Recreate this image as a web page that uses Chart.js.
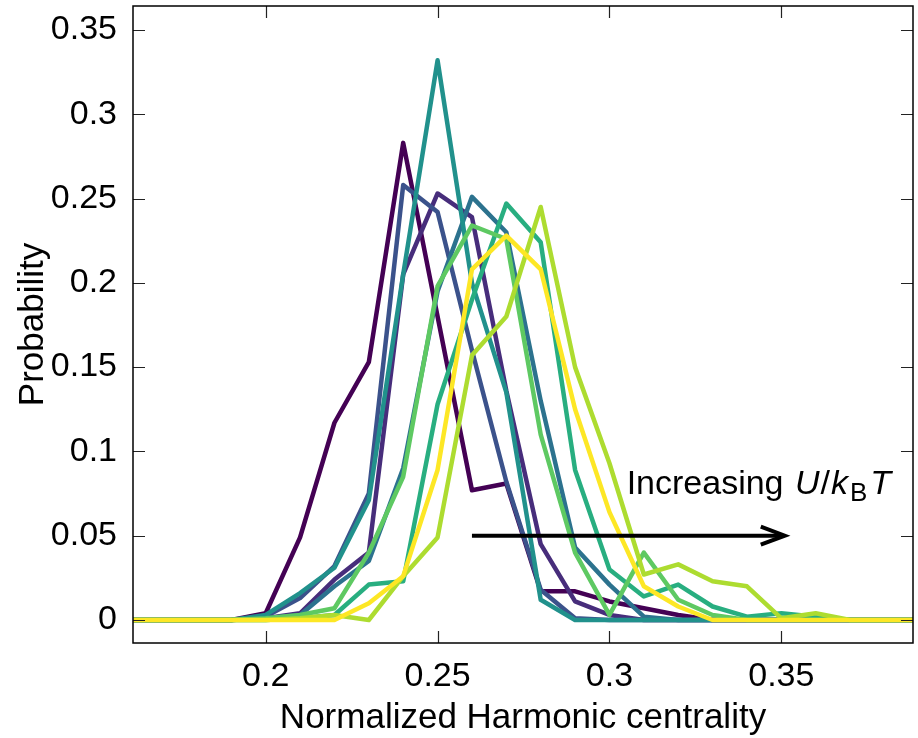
<!DOCTYPE html>
<html lang="en">
<head>
    <meta charset="UTF-8">
    <title>Harmonic centrality distribution</title>
    <script src="https://cdn.jsdelivr.net/npm/chart.js"></script>
    <style>
        body {
            margin: 0;
            background-color: #FFF;
        }
        #chartContainer {
            width: 918px;
            height: 738px;
        }
    </style>
</head>
<body>
    <div id="chartContainer">
        <canvas id="centralityChart" width="918" height="738"></canvas>
    </div>

    <script>
        // Bin centres (normalized harmonic centrality)
        const xValues = [0.16, 0.17, 0.18, 0.19, 0.20, 0.21, 0.22, 0.23, 0.24, 0.25, 0.26, 0.27,
                         0.28, 0.29, 0.30, 0.31, 0.32, 0.33, 0.34, 0.35, 0.36, 0.37, 0.38, 0.39];

        // One probability series per U/kBT value, lowest first
        const series1 = [0, 0, 0, 0, 0.004, 0.049, 0.117, 0.153, 0.283, 0.180, 0.077, 0.081, 0.017, 0.017, 0.011, 0.007, 0.003, 0, 0, 0, 0, 0, 0, 0];
        const series2 = [0, 0, 0, 0, 0.001, 0.004, 0.024, 0.040, 0.205, 0.253, 0.239, 0.136, 0.045, 0.011, 0.003, 0, 0, 0, 0, 0, 0, 0, 0, 0];
        const series3 = [0, 0, 0, 0, 0.002, 0.013, 0.032, 0.075, 0.258, 0.242, 0.160, 0.082, 0.018, 0.001, 0, 0, 0, 0, 0, 0, 0, 0, 0, 0];
        const series4 = [0, 0, 0, 0, 0.001, 0.003, 0.020, 0.035, 0.090, 0.195, 0.251, 0.230, 0.130, 0.043, 0.021, 0.002, 0, 0, 0, 0, 0, 0, 0, 0];
        const series5 = [0, 0, 0, 0, 0.003, 0.016, 0.031, 0.071, 0.205, 0.332, 0.200, 0.135, 0.012, 0, 0, 0, 0, 0, 0, 0, 0, 0, 0, 0];
        const series6 = [0, 0, 0, 0, 0, 0.001, 0.003, 0.021, 0.023, 0.128, 0.190, 0.247, 0.224, 0.089, 0.030, 0.014, 0.021, 0.008, 0.002, 0.004, 0.002, 0, 0, 0];
        const series7 = [0, 0, 0, 0, 0.001, 0.003, 0.007, 0.040, 0.085, 0.198, 0.234, 0.226, 0.110, 0.040, 0.003, 0.040, 0.012, 0.003, 0, 0, 0, 0, 0, 0];
        const series8 = [0, 0, 0, 0, 0, 0.001, 0.003, 0, 0.026, 0.049, 0.157, 0.180, 0.245, 0.150, 0.093, 0.027, 0.033, 0.023, 0.020, 0.001, 0.004, 0, 0, 0];
        const series9 = [0, 0, 0, 0, 0, 0, 0, 0.010, 0.026, 0.089, 0.208, 0.228, 0.208, 0.125, 0.064, 0.020, 0.008, 0, 0, 0, 0, 0, 0, 0];

        const allSeries = [series1, series2, series3, series4, series5, series6, series7, series8, series9];
        const seriesColors = ['#440154', '#472d7b', '#3b528b', '#2c728e', '#21918c', '#28ae80', '#5ec962', '#addc30', '#fde725'];

        // Tick labels
        const xTicks = [0.2, 0.25, 0.3, 0.35];
        const yTicks = [0, 0.05, 0.1, 0.15, 0.2, 0.25, 0.3, 0.35];

        const fontFamily = '"Liberation Sans", Arial, Helvetica, sans-serif';

        const datasets = allSeries.map((values, i) => ({
            label: 'series ' + (i + 1),
            data: values.map((v, j) => ({ x: xValues[j], y: v })),
            borderColor: seriesColors[i],
            backgroundColor: seriesColors[i],
            borderWidth: 4.5,
            borderJoinStyle: 'round',
            borderCapStyle: 'round',
            pointRadius: 0,
            tension: 0,
            fill: false,
            order: allSeries.length - i  // later (yellow) curves on top
        }));

        // Frame, inward tick marks, arrow and the annotation
        const framePlugin = {
            id: 'framePlugin',
            afterDatasetsDraw(chart) {
                const { ctx, chartArea: a, scales: { x, y } } = chart;
                ctx.save();

                // inward ticks on all four sides
                ctx.strokeStyle = '#222';
                ctx.lineWidth = 1.2;
                ctx.beginPath();
                xTicks.forEach(t => {
                    const px = Math.round(x.getPixelForValue(t)) + 0.5;
                    ctx.moveTo(px, a.bottom); ctx.lineTo(px, a.bottom - 12);
                    ctx.moveTo(px, a.top); ctx.lineTo(px, a.top + 12);
                });
                yTicks.forEach(t => {
                    const py = Math.round(y.getPixelForValue(t)) + 0.5;
                    ctx.moveTo(a.left, py); ctx.lineTo(a.left + 12, py);
                    ctx.moveTo(a.right, py); ctx.lineTo(a.right - 12, py);
                });
                ctx.stroke();

                // frame
                ctx.strokeStyle = '#000';
                ctx.lineWidth = 1.5;
                ctx.strokeRect(a.left, a.top, a.right - a.left, a.bottom - a.top);

                // arrow
                const ax0 = x.getPixelForValue(0.26);
                const ax1 = x.getPixelForValue(0.351);
                const ay = y.getPixelForValue(0.05);
                ctx.strokeStyle = '#000';
                ctx.lineWidth = 4;
                ctx.beginPath();
                ctx.moveTo(ax0, ay);
                ctx.lineTo(ax1 - 2, ay);
                ctx.stroke();
                ctx.beginPath();
                ctx.moveTo(ax1 - 24, ay - 9);
                ctx.lineTo(ax1, ay);
                ctx.lineTo(ax1 - 24, ay + 9);
                ctx.lineJoin = 'miter';
                ctx.stroke();

                // "Increasing U/kBT"
                let tx = x.getPixelForValue(0.305);
                const ty = y.getPixelForValue(0.0747);
                ctx.fillStyle = '#000';
                ctx.textBaseline = 'alphabetic';
                ctx.textAlign = 'left';
                const pieces = [
                    { t: 'Increasing ', f: '34px ' + fontFamily, dy: 0, gap: 2 },
                    { t: 'U', f: 'italic 34px ' + fontFamily, dy: 0, gap: 1 },
                    { t: '/', f: '34px ' + fontFamily, dy: 0, gap: 1 },
                    { t: 'k', f: 'italic 34px ' + fontFamily, dy: 0, gap: 2 },
                    { t: 'B', f: '26px ' + fontFamily, dy: 7, gap: 3 },
                    { t: 'T', f: 'italic 34px ' + fontFamily, dy: 0, gap: 0 }
                ];
                pieces.forEach(p => {
                    ctx.font = p.f;
                    ctx.fillText(p.t, tx, ty + p.dy);
                    tx += ctx.measureText(p.t).width + p.gap;
                });

                ctx.restore();
            }
        };

        const ctx = document.getElementById('centralityChart').getContext('2d');
        const centralityChart = new Chart(ctx, {
            type: 'line',
            data: { datasets: datasets },
            options: {
                responsive: false,
                animation: false,
                layout: {
                    padding: { top: 6, right: 5, left: 0, bottom: 0 }
                },
                scales: {
                    x: {
                        type: 'linear',
                        min: 0.1614,
                        max: 0.3883,
                        afterFit: scale => {
                            scale.height = 95;
                            scale.paddingLeft = 0;
                            scale.paddingRight = 0;
                        },
                        afterBuildTicks: scale => { scale.ticks = xTicks.map(v => ({ value: v })); },
                        grid: { display: false, drawTicks: false },
                        border: { display: false },
                        ticks: {
                            padding: 13,
                            color: '#000',
                            font: { family: fontFamily, size: 34 },
                            callback: v => String(Number(v.toFixed(2)))
                        },
                        title: {
                            display: true,
                            text: 'Normalized Harmonic centrality',
                            color: '#000',
                            font: { family: fontFamily, size: 35 },
                            padding: { top: 0, bottom: -1 }
                        }
                    },
                    y: {
                        type: 'linear',
                        min: -0.01364,
                        max: 0.3642,
                        afterFit: scale => {
                            scale.width = 133;
                            scale.paddingTop = 0;
                            scale.paddingBottom = 0;
                        },
                        afterBuildTicks: scale => { scale.ticks = yTicks.map(v => ({ value: v })); },
                        grid: { display: false, drawTicks: false },
                        border: { display: false },
                        ticks: {
                            padding: 16,
                            color: '#000',
                            font: { family: fontFamily, size: 34 },
                            callback: v => String(Number(v.toFixed(2)))
                        },
                        title: {
                            display: true,
                            text: 'Probability',
                            color: '#000',
                            font: { family: fontFamily, size: 35 },
                            padding: { top: 12, bottom: 0 }
                        }
                    }
                },
                plugins: {
                    legend: { display: false },
                    tooltip: { enabled: false }
                }
            },
            plugins: [framePlugin]
        });
    </script>
</body>
</html>
